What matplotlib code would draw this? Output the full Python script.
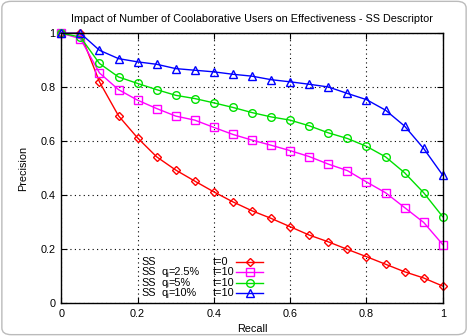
import matplotlib
matplotlib.use('Agg')
from matplotlib import pyplot as plt
from matplotlib.patches import FancyBboxPatch

plt.rcParams['font.family'] = ['Liberation Sans', 'DejaVu Sans']

recall = [0.0, 0.05, 0.1, 0.15, 0.2, 0.25, 0.3, 0.35, 0.4, 0.45, 0.5,
          0.55, 0.6, 0.65, 0.7, 0.75, 0.8, 0.85, 0.9, 0.95, 1.0]

ss_t0 = [1.0, 1.0, 0.82, 0.694, 0.612, 0.542, 0.493, 0.452, 0.412, 0.375, 0.342,
         0.314, 0.283, 0.252, 0.227, 0.199, 0.172, 0.144, 0.116, 0.093, 0.063]
ss_q25 = [1.0, 0.98, 0.853, 0.791, 0.752, 0.721, 0.693, 0.678, 0.651, 0.625, 0.604,
          0.585, 0.565, 0.543, 0.515, 0.491, 0.449, 0.409, 0.354, 0.299, 0.217]
ss_q5 = [1.0, 0.986, 0.888, 0.838, 0.814, 0.791, 0.770, 0.758, 0.742, 0.725, 0.706,
         0.690, 0.678, 0.657, 0.631, 0.610, 0.581, 0.542, 0.483, 0.409, 0.320]
ss_q10 = [1.0, 1.0, 0.937, 0.906, 0.894, 0.885, 0.869, 0.863, 0.857, 0.848, 0.841,
          0.828, 0.820, 0.811, 0.801, 0.777, 0.754, 0.715, 0.656, 0.573, 0.474]

# (values, quota text, t text, colour, marker, marker size)
series = [
    (ss_t0, '', 't=0', '#ff0000', 'D', 4.3),
    (ss_q25, '=2.5%', 't=10', '#ff00ff', 's', 5.5),
    (ss_q5, '=5%', 't=10', '#00e000', 'o', 5.5),
    (ss_q10, '=10%', 't=10', '#0000ff', '^', 5.5),
]

fs = 7.8

fig = plt.figure(figsize=(4.68, 3.36), dpi=100)
ax = fig.add_axes([0.131, 0.098, 0.815, 0.803])

for vals, q, t, col, mk, ms in series:
    ax.plot(recall, vals, color=col, marker=mk, markersize=ms, markerfacecolor='none',
            markeredgecolor=col, markeredgewidth=1.0, linewidth=1.0, clip_on=False)

ax.set_xlim(0, 1)
ax.set_ylim(0, 1)
ax.set_xticks([0, 0.2, 0.4, 0.6, 0.8, 1])
ax.set_xticklabels(['0', '0.2', '0.4', '0.6', '0.8', '1'])
ax.set_yticks([0, 0.2, 0.4, 0.6, 0.8, 1])
ax.set_yticklabels(['0', '0.2', '0.4', '0.6', '0.8', '1'])
ax.tick_params(direction='in', top=True, right=True, length=4, labelsize=fs, pad=4)
ax.grid(True, color='black', linestyle=(0, (1, 3)), linewidth=0.8)
for s in ax.spines.values():
    s.set_linewidth(1.0)

ax.set_title('Impact of Number of Coolaborative Users on Effectiveness - SS Descriptor',
             fontsize=fs, pad=8)
ax.set_xlabel('Recall', fontsize=fs, labelpad=4)
ax.set_ylabel('Precision', fontsize=fs, labelpad=9)

# gnuplot-style key: labels on the left, line sample on the right
y0 = 0.141
dy = 0.038
for i, (vals, q, t, col, mk, ms) in enumerate(series):
    y = y0 - i * dy
    ax.text(0.209, y, 'SS', transform=ax.transAxes, fontsize=fs, va='baseline', ha='left')
    if q:
        # q with a small subscript i, then the rest of the label
        ax.text(0.262, y, 'q', transform=ax.transAxes, fontsize=fs, va='baseline', ha='left')
        ax.text(0.2755, y - 0.007, 'i', transform=ax.transAxes, fontsize=fs * 0.7,
                va='baseline', ha='left')
        ax.text(0.2815, y, q, transform=ax.transAxes, fontsize=fs, va='baseline', ha='left')
    ax.text(0.397, y, t, transform=ax.transAxes, fontsize=fs, va='baseline', ha='left')
    ax.plot([0.459, 0.529], [y + 0.011, y + 0.011], transform=ax.transAxes, color=col,
            linewidth=1.0)
    ax.plot([0.494], [y + 0.011], transform=ax.transAxes, color=col, marker=mk,
            markersize=ms, markerfacecolor='none', markeredgecolor=col, markeredgewidth=1.0)

frame = FancyBboxPatch((0.004, 0.004), 0.992, 0.992, boxstyle='round,pad=0,rounding_size=0.02',
                       transform=fig.transFigure, facecolor='none', edgecolor='#bbbbbb',
                       linewidth=1.0)
fig.patches.append(frame)

fig.savefig('out.png', dpi=100)
